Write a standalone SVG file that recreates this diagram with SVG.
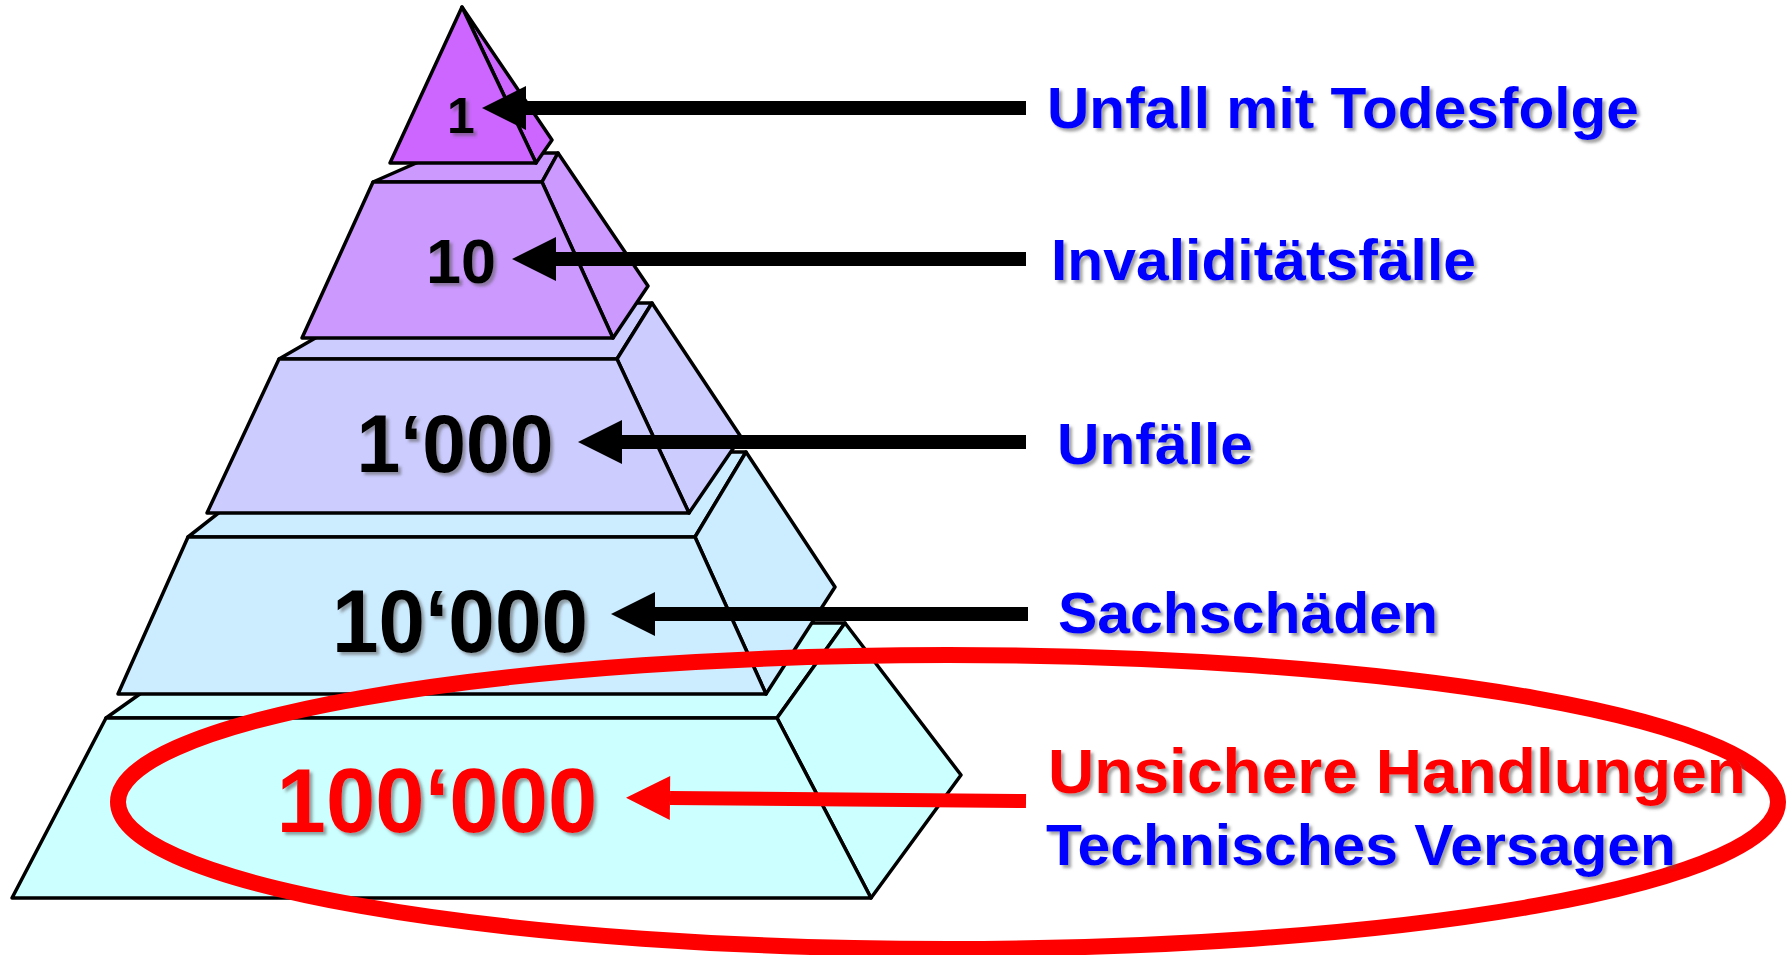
<svg xmlns="http://www.w3.org/2000/svg" width="1787" height="955" viewBox="0 0 1787 955">
<style>
.face{stroke:#000;stroke-width:3.5;stroke-linejoin:round}
.l1{fill:#CC66FF}.l2{fill:#CC99FF}.l3{fill:#CCCCFF}.l4{fill:#CCECFF}.l5{fill:#CCFFFF}
.num{font-family:"Liberation Sans",Arial,sans-serif;font-weight:bold;text-anchor:middle;filter:url(#sh)}
.lbl{font-family:"Liberation Sans",Arial,sans-serif;font-weight:bold;filter:url(#sh)}
.blue{fill:#0000FF}.red{fill:#FF0000}.blk{fill:#000}
.arr{stroke:#000;stroke-width:14;fill:none;marker-end:url(#hb)}
.arrR{stroke:#FF0000;stroke-width:14;fill:none;marker-end:url(#hr)}
</style>
<defs>
<filter id="sh" x="-5%" y="-20%" width="115%" height="150%">
<feDropShadow dx="3" dy="3" stdDeviation="1.5" flood-color="#555" flood-opacity="0.55"/>
</filter>
<marker id="hb" markerUnits="userSpaceOnUse" viewBox="0 0 44 44" markerWidth="44" markerHeight="44" refX="0" refY="22" orient="auto" overflow="visible">
<path d="M0,0 L44,22 L0,44 Z" fill="#000"/>
</marker>
<marker id="hr" markerUnits="userSpaceOnUse" viewBox="0 0 44 44" markerWidth="44" markerHeight="44" refX="0" refY="22" orient="auto" overflow="visible">
<path d="M0,0 L44,22 L0,44 Z" fill="#FF0000"/>
</marker>
</defs>
<rect width="1787" height="955" fill="#fff"/>

<g id="level5">
<polygon class="face l5" points="106,718 240,623 845,623 777,718"/>
<polygon class="face l5" points="777,718 845,623 961,775 871,898"/>
<polygon class="face l5" points="106,718 777,718 871,898 12,898"/>
</g>
<g id="level4">
<polygon class="face l4" points="188,537 296,452 746,452 695,537"/>
<polygon class="face l4" points="695,537 746,452 835,587 766,694"/>
<polygon class="face l4" points="188,537 695,537 766,694 118,694"/>
</g>
<g id="level3">
<polygon class="face l3" points="279,359 376,303 652,303 617,359"/>
<polygon class="face l3" points="617,359 652,303 741,437 689,513"/>
<polygon class="face l3" points="279,359 617,359 689,513 207,513"/>
</g>
<g id="level2">
<polygon class="face l2" points="373,182 439,153 558,153 542,182"/>
<polygon class="face l2" points="542,182 558,153 648,286 613,338"/>
<polygon class="face l2" points="373,182 542,182 613,338 302,338"/>
</g>
<g id="level1">
<polygon class="face l1" points="462,7 552,140 536,163"/>
<polygon class="face l1" points="462,7 536,163 390,163"/>
</g>

<g id="ellipse">
<ellipse cx="948" cy="802" rx="830" ry="147" fill="none" stroke="#FF0000" stroke-width="16"/>
</g>

<g id="connectors">
<line class="arr" x1="1026" y1="108" x2="526" y2="108"/>
<line class="arr" x1="1026" y1="259" x2="556" y2="259"/>
<line class="arr" x1="1026" y1="442" x2="622" y2="442"/>
<line class="arr" x1="1028" y1="614" x2="655" y2="614"/>
<line class="arrR" x1="1026" y1="801" x2="670" y2="798"/>
</g>

<g id="n1"><text class="num blk" x="461" y="133" font-size="50">1</text></g>
<g id="n10"><text class="num blk" x="461" y="283" font-size="63">10</text></g>
<g id="n1000"><text class="num blk" x="455" y="472" font-size="82" textLength="197" lengthAdjust="spacingAndGlyphs">1‘000</text></g>
<g id="n10000"><text class="num blk" x="460" y="652" font-size="89" textLength="256" lengthAdjust="spacingAndGlyphs">10‘000</text></g>
<g id="n100000"><text class="num red" x="437" y="832" font-size="91" textLength="321" lengthAdjust="spacingAndGlyphs">100‘000</text></g>

<g id="t1"><text class="lbl blue" x="1047" y="128" font-size="58" textLength="592" lengthAdjust="spacingAndGlyphs">Unfall mit Todesfolge</text></g>
<g id="t2"><text class="lbl blue" x="1051" y="280" font-size="58" textLength="425" lengthAdjust="spacingAndGlyphs">Invaliditätsfälle</text></g>
<g id="t3"><text class="lbl blue" x="1057" y="464" font-size="58" textLength="196" lengthAdjust="spacingAndGlyphs">Unfälle</text></g>
<g id="t4"><text class="lbl blue" x="1058" y="633" font-size="58" textLength="380" lengthAdjust="spacingAndGlyphs">Sachschäden</text></g>
<g id="t5"><text class="lbl red" x="1048" y="793" font-size="63" textLength="698" lengthAdjust="spacingAndGlyphs">Unsichere Handlungen</text></g>
<g id="t6"><text class="lbl blue" x="1046" y="865" font-size="58" textLength="630" lengthAdjust="spacingAndGlyphs">Technisches Versagen</text></g>
</svg>
